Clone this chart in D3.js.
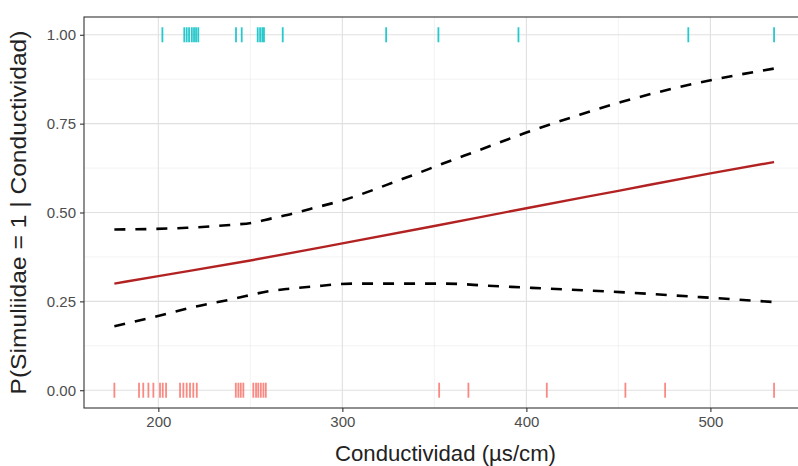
<!DOCTYPE html>
<html>
<head>
<meta charset="utf-8">
<script src="https://cdn.jsdelivr.net/npm/d3@7"></script>
<style>
  html, body { margin: 0; padding: 0; background: #fff; }
  svg { display: block; font-family: "Liberation Sans", Arial, sans-serif; }
</style>
</head>
<body>
<svg id="chart" width="798" height="466"></svg>
<script>
// Observed conductivity where Simuliidae were present (y = 1)
const presentX = [202.2, 214.1, 215.4, 216.7, 218.2, 219.4, 220.5, 221.7, 242.2, 245.3,
                  254.0, 255.3, 256.5, 257.4, 267.6, 323.8, 352.2, 395.7, 488.0, 534.6];
// Observed conductivity where Simuliidae were absent (y = 0)
const absentX = [176.1, 189.5, 191.8, 194.6, 197.3, 200.9, 202.4, 204.2, 211.8, 213.6,
                 215.4, 217.2, 219.0, 220.9, 242.1, 243.5, 244.8, 246.2, 251.6, 253.1,
                 254.3, 255.7, 257.1, 258.4, 352.6, 368.5, 411.1, 453.8, 475.4, 534.6];

// Fitted probability from the logistic model
const fitX = [176.1, 200, 250, 300, 350, 400, 450, 500, 534.6];
const fitP = [0.300, 0.321, 0.365, 0.413, 0.462, 0.512, 0.561, 0.610, 0.642];

// Upper confidence band
const upperX = [176.1, 215.5, 239, 251, 262, 270, 282.5, 300, 332.5, 360, 370.5, 400, 429, 451, 472.7, 494.4, 516, 534.6];
const upperP = [0.452, 0.457, 0.465, 0.471, 0.484, 0.493, 0.510, 0.534, 0.594, 0.648, 0.668, 0.725, 0.775, 0.810, 0.840, 0.866, 0.888, 0.905];

// Lower confidence band
const lowerX = [176.1, 199.3, 218.9, 240, 260.7, 270, 282.5, 305.8, 331.4, 355.8, 379.2, 403, 451, 494.4, 534.6];
const lowerP = [0.180, 0.208, 0.234, 0.256, 0.279, 0.285, 0.291, 0.300, 0.300, 0.300, 0.294, 0.288, 0.276, 0.262, 0.248];

const xTicks = [200, 300, 400, 500];
const xMinor = [250, 350, 450, 550];
const yTicks = [0, 0.25, 0.5, 0.75, 1];
const yMinor = [0.125, 0.375, 0.625, 0.875];

const svg = d3.select("#chart");
const panel = { left: 84, right: 807, top: 17, bottom: 408 };

const x = d3.scaleLinear().domain([159.6, 552.5]).range([panel.left, panel.right]);
const y = d3.scaleLinear().domain([-0.05, 1.05]).range([panel.bottom, panel.top]);

svg.append("defs").append("clipPath").attr("id", "panel-clip")
  .append("rect")
  .attr("x", panel.left).attr("y", panel.top)
  .attr("width", panel.right - panel.left).attr("height", panel.bottom - panel.top);

const g = svg.append("g").attr("clip-path", "url(#panel-clip)");

// Grid lines
g.selectAll(".gx-minor").data(xMinor).join("line")
  .attr("x1", d => x(d)).attr("x2", d => x(d))
  .attr("y1", panel.top).attr("y2", panel.bottom)
  .attr("stroke", "#ebebeb").attr("stroke-width", 0.6);
g.selectAll(".gy-minor").data(yMinor).join("line")
  .attr("x1", panel.left).attr("x2", panel.right)
  .attr("y1", d => y(d)).attr("y2", d => y(d))
  .attr("stroke", "#ebebeb").attr("stroke-width", 0.6);
g.selectAll(".gx").data(xTicks).join("line")
  .attr("x1", d => x(d)).attr("x2", d => x(d))
  .attr("y1", panel.top).attr("y2", panel.bottom)
  .attr("stroke", "#e0e0e0").attr("stroke-width", 1.1);
g.selectAll(".gy").data(yTicks).join("line")
  .attr("x1", panel.left).attr("x2", panel.right)
  .attr("y1", d => y(d)).attr("y2", d => y(d))
  .attr("stroke", "#e0e0e0").attr("stroke-width", 1.1);

// Observation marks
const markHalf = 7.5;
g.selectAll(".pres").data(presentX).join("line")
  .attr("x1", d => x(d)).attr("x2", d => x(d))
  .attr("y1", y(1) - markHalf).attr("y2", y(1) + markHalf)
  .attr("stroke", "#00BFC4").attr("stroke-width", 1.8).attr("stroke-opacity", 0.85);
g.selectAll(".abs").data(absentX).join("line")
  .attr("x1", d => x(d)).attr("x2", d => x(d))
  .attr("y1", y(0) - markHalf).attr("y2", y(0) + markHalf)
  .attr("stroke", "#F8766D").attr("stroke-width", 1.8).attr("stroke-opacity", 0.85);

// Curves
const line = d3.line().x(d => x(d[0])).y(d => y(d[1])).curve(d3.curveMonotoneX);
g.append("path").datum(d3.zip(upperX, upperP)).attr("d", line)
  .attr("fill", "none").attr("stroke", "#000").attr("stroke-width", 2.6)
  .attr("stroke-dasharray", "11,10");
g.append("path").datum(d3.zip(lowerX, lowerP)).attr("d", line)
  .attr("fill", "none").attr("stroke", "#000").attr("stroke-width", 2.6)
  .attr("stroke-dasharray", "11,10");
g.append("path").datum(d3.zip(fitX, fitP)).attr("d", line)
  .attr("fill", "none").attr("stroke", "#B22222").attr("stroke-width", 2.4);

// Panel border
svg.append("rect")
  .attr("x", panel.left).attr("y", panel.top)
  .attr("width", panel.right - panel.left).attr("height", panel.bottom - panel.top)
  .attr("fill", "none").attr("stroke", "#333").attr("stroke-width", 1.1);

// Axes
const xAxis = svg.append("g").attr("transform", `translate(0,${panel.bottom})`)
  .call(d3.axisBottom(x).tickValues(xTicks).tickSize(4).tickSizeOuter(0).tickPadding(4).tickFormat(d3.format("d")));
const yAxis = svg.append("g").attr("transform", `translate(${panel.left},0)`)
  .call(d3.axisLeft(y).tickValues(yTicks).tickSize(4).tickSizeOuter(0).tickPadding(4).tickFormat(d3.format(".2f")));
[xAxis, yAxis].forEach(a => {
  a.select(".domain").remove();
  a.selectAll(".tick line").attr("stroke", "#333").attr("stroke-width", 1.1);
  a.selectAll(".tick text").attr("fill", "#4d4d4d")
    .style("font-size", "15px").style("font-family", "'Liberation Sans', Arial, sans-serif");
});

// Axis titles
svg.append("text")
  .attr("x", (panel.left + panel.right) / 2).attr("y", 461)
  .attr("text-anchor", "middle").attr("fill", "#222")
  .attr("textLength", 221).attr("lengthAdjust", "spacingAndGlyphs")
  .style("font-size", "22px")
  .text("Conductividad (µs/cm)");
svg.append("text")
  .attr("transform", `translate(26,${(panel.top + panel.bottom) / 2}) rotate(-90)`)
  .attr("text-anchor", "middle").attr("fill", "#222")
  .attr("textLength", 364).attr("lengthAdjust", "spacingAndGlyphs")
  .style("font-size", "22px")
  .text("P(Simuliidae = 1 | Conductividad)");
</script>
</body>
</html>
